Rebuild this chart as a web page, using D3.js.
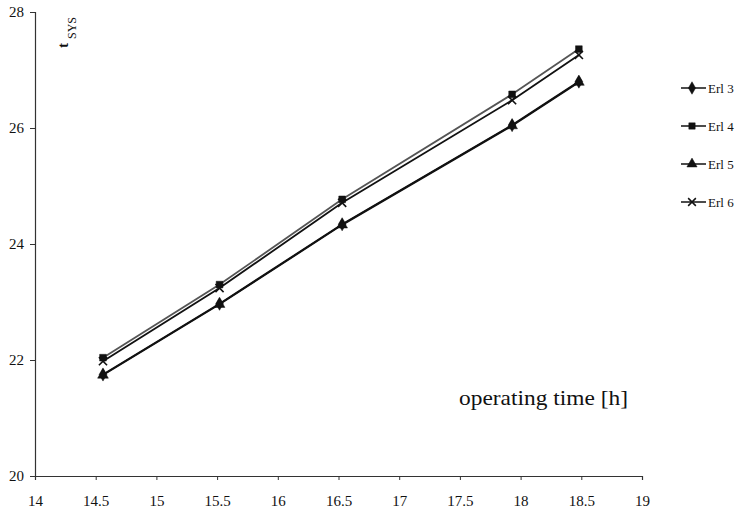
<!DOCTYPE html>
<html><head><meta charset="utf-8">
<script src="https://cdn.jsdelivr.net/npm/d3@7"></script>
<style>body{margin:0;background:#fff}svg{display:block}text{font-family:"Liberation Serif","Times New Roman",serif;fill:#111}</style>
</head><body><svg id="c" width="735" height="512"></svg>
<script>
const hours = [14.56, 15.52, 16.53, 17.93, 18.48];
const erl3 = [21.75, 22.97, 24.34, 26.05, 26.80];
const erl4 = [22.04, 23.30, 24.77, 26.58, 27.36];
const erl5 = [21.74, 22.96, 24.33, 26.04, 26.79];
const erl6 = [21.98, 23.24, 24.71, 26.48, 27.26];
const seriesNames = ["Erl 3", "Erl 4", "Erl 5", "Erl 6"];
const xTicks = [14, 14.5, 15, 15.5, 16, 16.5, 17, 17.5, 18, 18.5, 19];
const yTicks = [20, 22, 24, 26, 28];

const series = [
  {name: seriesNames[0], vals: erl3, sym: d3.symbolDiamond, size: 50, color: "#111"},
  {name: seriesNames[1], vals: erl4, sym: d3.symbolSquare, size: 45, color: "#555"},
  {name: seriesNames[2], vals: erl5, sym: d3.symbolTriangle, size: 50, color: "#111"},
  {name: seriesNames[3], vals: erl6, sym: d3.symbolX, size: 45, color: "#111"}
];

const svg = d3.select("#c");
const x = d3.scaleLinear().domain([14, 19]).range([35, 642]);
const y = d3.scaleLinear().domain([20, 28]).range([476, 12]);

const xAxis = svg.append("g").attr("transform", "translate(0,476)")
  .call(d3.axisBottom(x).tickValues(xTicks).tickSize(4).tickPadding(15).tickFormat(d3.format("")));
const yAxis = svg.append("g").attr("transform", "translate(35,0)")
  .call(d3.axisLeft(y).tickValues(yTicks).tickSize(5).tickPadding(6));
[xAxis, yAxis].forEach(g => {
  g.select(".domain").attr("stroke", "#333").attr("stroke-width", 1.2);
  g.selectAll(".tick line").attr("stroke", "#333");
  g.selectAll("text").attr("font-size", 15).attr("fill", "#111");
});
yAxis.selectAll("text").attr("dy", "0.32em");

const line = d3.line().x((d, i) => x(hours[i])).y(d => y(d));
series.forEach(s => {
  svg.append("path").attr("d", line(s.vals)).attr("fill", "none")
    .attr("stroke", s.color).attr("stroke-width", 1.8);
});
series.forEach(s => {
  const sym = d3.symbol().type(s.sym).size(s.size);
  svg.selectAll(null).data(s.vals).enter().append("path")
    .attr("d", sym)
    .attr("transform", (d, i) => `translate(${x(hours[i])},${y(d)})`)
    .attr("fill", s.sym === d3.symbolX ? "none" : "#111")
    .attr("stroke", "#111").attr("stroke-width", s.sym === d3.symbolX ? 1.6 : 0.5);
});

// legend
const leg = svg.append("g");
series.forEach((s, i) => {
  const ly = 88 + i * 38;
  leg.append("line").attr("x1", 681).attr("x2", 706).attr("y1", ly).attr("y2", ly)
    .attr("stroke", "#111").attr("stroke-width", 1.5);
  leg.append("path").attr("d", d3.symbol().type(s.sym).size(s.size * 0.9))
    .attr("transform", `translate(692,${ly})`)
    .attr("fill", s.sym === d3.symbolX ? "none" : "#111")
    .attr("stroke", "#111").attr("stroke-width", s.sym === d3.symbolX ? 1.5 : 0.5);
  leg.append("text").attr("x", 708).attr("y", ly).attr("dy", "0.35em")
    .attr("font-size", 13).text(s.name);
});

// y label
const yl = svg.append("text").attr("transform", "translate(68,48) rotate(-90)").attr("font-size", 15);
yl.append("tspan").attr("font-weight", "bold").text("t");
yl.append("tspan").attr("font-size", 12).attr("dy", 8).attr("dx", 4).text("SYS");

svg.append("text").attr("x", 459).attr("y", 405).attr("font-size", 22)
  .attr("textLength", 169).attr("lengthAdjust", "spacingAndGlyphs").text("operating time [h]");
</script></body></html>
